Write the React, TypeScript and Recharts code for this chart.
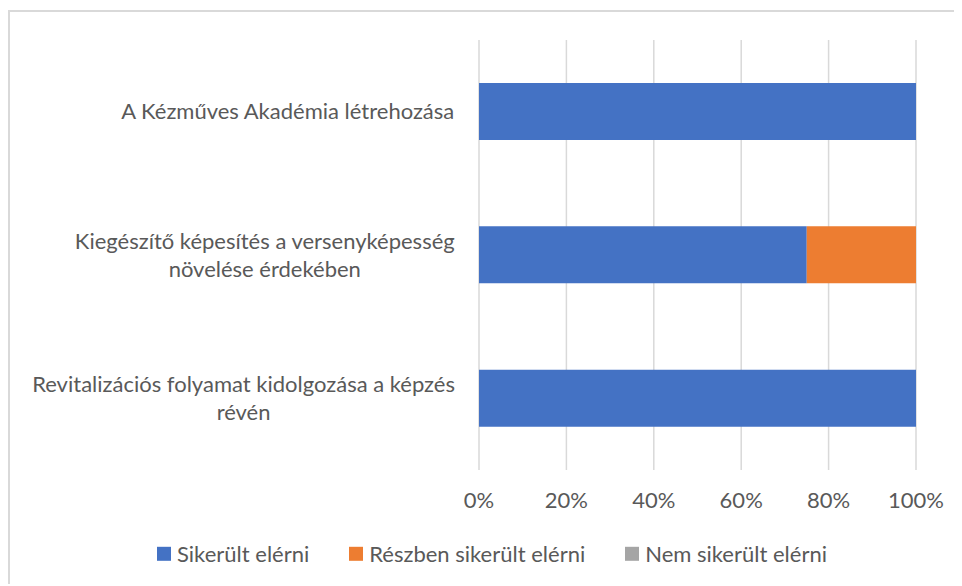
import { Bar, BarChart, CartesianGrid, XAxis, YAxis } from 'recharts';

const categories = [
  'A Kézműves Akadémia létrehozása',
  'Kiegészítő képesítés a versenyképesség növelése érdekében',
  'Revitalizációs folyamat kidolgozása a képzés révén',
];
const sikerult = [100, 75, 100];
const reszben = [0, 25, 0];
const nem = [0, 0, 0];
const xTicks = [0, 20, 40, 60, 80, 100];

const series = [
  { key: 'sikerult', name: 'Sikerült elérni', color: '#4472C4' },
  { key: 'reszben', name: 'Részben sikerült elérni', color: '#ED7D31' },
  { key: 'nem', name: 'Nem sikerült elérni', color: '#A5A5A5' },
];

const data = categories.map((name, i) => ({
  name,
  sikerult: sikerult[i],
  reszben: reszben[i],
  nem: nem[i],
}));

const FONT = 'Lato, "Open Sans", sans-serif';
const FONT_SIZE = 22;
const TEXT = '#595959';

let ctx: CanvasRenderingContext2D | null = null;
function measure(s: string) {
  if (!ctx) ctx = document.createElement('canvas').getContext('2d');
  if (!ctx) return s.length * 10;
  ctx.font = `${FONT_SIZE}px ${FONT}`;
  return ctx.measureText(s).width;
}

function wrap(text: string, max: number) {
  const lines: string[] = [];
  let cur = '';
  for (const w of text.split(' ')) {
    const next = cur ? cur + ' ' + w : w;
    if (cur && measure(next) > max) {
      lines.push(cur);
      cur = w;
    } else cur = next;
  }
  if (cur) lines.push(cur);
  return lines;
}

// labels right-aligned as a block, each line centred inside it (Excel style)
function CategoryTick({ x, y, payload }: { x?: number; y?: number; payload?: { value: string } }) {
  const lines = wrap(payload?.value ?? '', 445);
  const widest = Math.max(...lines.map(measure));
  const right = 447;
  const cx = right - widest / 2;
  const lh = 28;
  const y0 = (y ?? 0) - ((lines.length - 1) * lh) / 2;
  return (
    <g>
      {lines.map((l, i) => (
        <text
          key={i}
          x={cx}
          y={y0 + i * lh}
          dy="0.35em"
          textAnchor="middle"
          fill={TEXT}
          fontSize={FONT_SIZE}
          fontFamily={FONT}
        >
          {l}
        </text>
      ))}
    </g>
  );
}

export default function App() {
  return (
    <div
      style={{
        position: 'relative',
        top: 2,
        width: 954,
        height: 576,
        borderTop: '2px solid #d9d9d9',
        borderLeft: '2px solid #d9d9d9',
        boxSizing: 'border-box',
        fontFamily: FONT,
      }}
    >
      <div style={{ position: 'absolute', left: -2, top: -2 }}>
        <BarChart
          width={954}
          height={576}
          data={data}
          layout="vertical"
          margin={{ top: 30, right: 46, left: 0, bottom: 76 }}
          barCategoryGap="30%"
        >
          <CartesianGrid horizontal={false} stroke="#d9d9d9" strokeWidth={1.5} />
          <XAxis
            type="number"
            domain={[0, 100]}
            ticks={xTicks}
            tickFormatter={(v) => `${v}%`}
            axisLine={false}
            tickLine={false}
            height={40}
            tickMargin={16}
            tick={{ fill: TEXT, fontSize: FONT_SIZE, fontFamily: FONT }}
          />
          <YAxis
            type="category"
            dataKey="name"
            width={471}
            axisLine={false}
            tickLine={false}
            tick={<CategoryTick />}
          />
          {series.map((s) => (
            <Bar
              key={s.key}
              dataKey={s.key}
              name={s.name}
              stackId="a"
              fill={s.color}
              isAnimationActive={false}
            />
          ))}
        </BarChart>
        <div
          style={{
            position: 'absolute',
            left: 149,
            top: 544,
            transform: 'translateY(-50%)',
            display: 'flex',
            fontSize: FONT_SIZE,
            color: TEXT,
            whiteSpace: 'nowrap',
            lineHeight: 1.2,
          }}
        >
          {series.map((s, i) => (
            <div
              key={s.key}
              style={{ display: 'flex', alignItems: 'center', marginLeft: i === 0 ? 0 : 40 }}
            >
              <span style={{ width: 14, height: 14, background: s.color, marginRight: 6, display: 'inline-block' }} />
              <span>{s.name}</span>
            </div>
          ))}
        </div>
      </div>
    </div>
  );
}
